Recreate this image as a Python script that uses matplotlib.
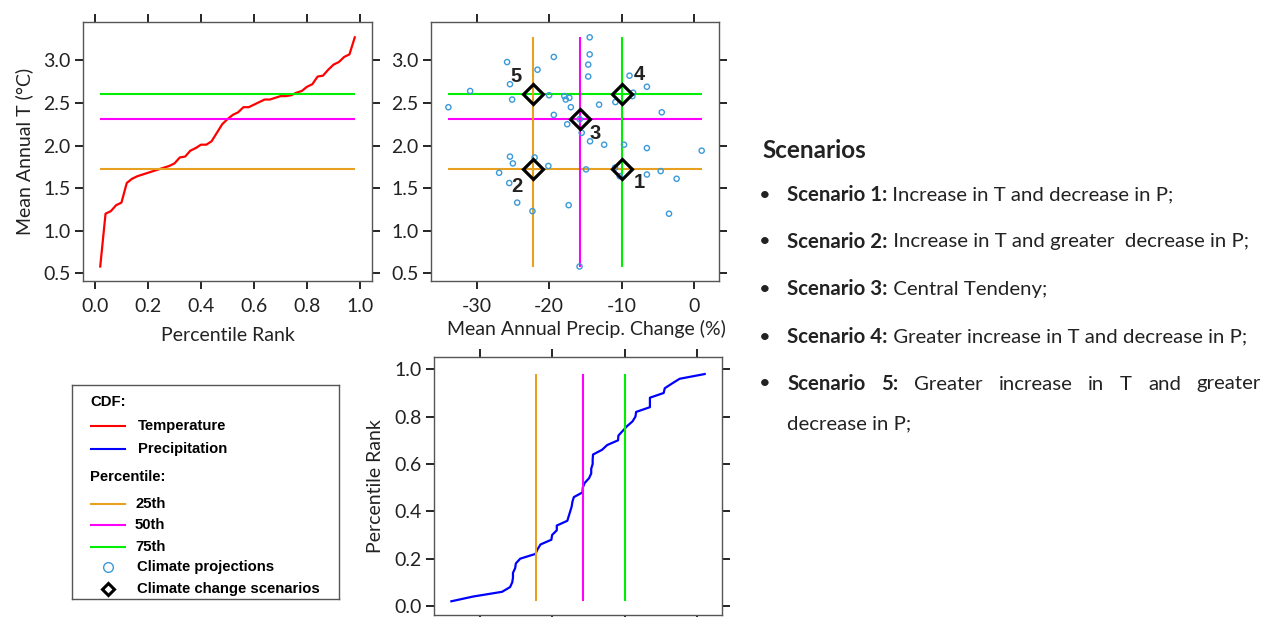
import numpy as np
import matplotlib.pyplot as plt

plt.rcParams['font.family'] = ['Lato', 'DejaVu Sans']
plt.rcParams['axes.unicode_minus'] = False

# climate projections
precip = [-25.8, -19.35, -21.6, -25.4, -30.9, -33.9, -25.1, -20.0, -17.9, -17.7,
          -17.2, -17.0, -19.35, -17.5, -14.4, -14.4, -14.6, -14.6, -8.9, -6.5,
          -8.4, -8.5, -13.1, -10.85, -4.45, -15.5, -14.35, -12.4, -9.65, -6.5,
          1.06, -25.4, -25.0, -26.9, -25.5, -24.4, -22.3, -17.3, -20.1, -22.0,
          -14.9, -10.9, -10.25, -6.5, -4.6, -2.4, -3.45, -15.8, -15.77]
temp = [2.98, 3.04, 2.89, 2.72, 2.64, 2.45, 2.54, 2.59, 2.58, 2.54,
        2.56, 2.45, 2.36, 2.25, 3.27, 3.07, 2.95, 2.81, 2.82, 2.69,
        2.62, 2.58, 2.48, 2.51, 2.39, 2.15, 2.05, 2.01, 2.01, 1.97,
        1.94, 1.87, 1.79, 1.68, 1.56, 1.33, 1.23, 1.30, 1.76, 1.86,
        1.72, 1.74, 1.64, 1.66, 1.70, 1.61, 1.20, 0.58, 2.31]

pct_names = ['25th', '50th', '75th']
p_pct = [-22.2, -15.8, -9.9]
t_pct = [1.73, 2.31, 2.61]

# scenario -> (precip percentile index, temp percentile index)
scen_ids = ['1', '2', '3', '4', '5']
scen_pi = [2, 0, 1, 2, 0]
scen_ti = [0, 0, 1, 2, 2]

scen_bold = ['Scenario 1:', 'Scenario 2:', 'Scenario 3:', 'Scenario 4:', 'Scenario 5:']
scen_text = ['Increase in T and decrease in P;',
             'Increase in T and greater  decrease in P;',
             'Central Tendeny;',
             'Greater increase in T and decrease in P;',
             'Greater increase in T and greater']
scen_tail = 'decrease in P;'

pct_colors = ['#E8A020', '#FF00FF', '#00EE00']
lab_off = [(12, -10), (-12, -13), (11, -10), (12, 14), (-12, 12)]
frame_c = '#555555'
txt_c = '#222222'
fs_ax = 14

n = len(temp)
rank = np.arange(1, n + 1) / (n + 1)
t_sorted = np.sort(temp)
p_sorted = np.sort(precip)

W, H = 1274, 617
fig = plt.figure(figsize=(W / 100, H / 100), dpi=100)


def pax(x0, y0, x1, y1):
    return fig.add_axes([x0 / W, 1 - y1 / H, (x1 - x0) / W, (y1 - y0) / H])


def style(ax):
    for s in ax.spines.values():
        s.set_color(frame_c)
        s.set_linewidth(1.0)
    ax.tick_params(direction='out', length=6, width=1.2, color='black',
                   top=True, right=True, labeltop=False, labelright=False,
                   labelsize=fs_ax, labelcolor=txt_c, pad=3)
    ax.tick_params(axis='x', pad=6)


xlim_p = (-36.3, 3.45)
ylim_t = (0.41, 3.45)

# temperature CDF
ax1 = pax(83, 22, 372, 281)
ax1.plot(rank, t_sorted, color='red', lw=1.6)
for v, c in zip(t_pct, pct_colors):
    ax1.hlines(v, rank[0], rank[-1], color=c, lw=1.5)
ax1.set_xlim(-0.045, 1.045)
ax1.set_ylim(*ylim_t)
ax1.set_xticks(np.arange(0, 1.01, 0.2))
ax1.set_yticks(np.arange(0.5, 3.01, 0.5))
ax1.xaxis.set_major_formatter(lambda v, p: f'{v:.1f}')
ax1.yaxis.set_major_formatter(lambda v, p: f'{v:.1f}')
ax1.set_xlabel('Percentile Rank', fontsize=fs_ax, color=txt_c, labelpad=9)
ax1.set_ylabel('Mean Annual T (°C)', fontsize=fs_ax, color=txt_c, labelpad=7)
style(ax1)

# scatter
ax2 = pax(431, 22, 719, 281)
for v, c in zip(t_pct, pct_colors):
    ax2.hlines(v, min(precip), max(precip), color=c, lw=1.5, zorder=1)
for v, c in zip(p_pct, pct_colors):
    ax2.vlines(v, min(temp), max(temp), color=c, lw=1.5, zorder=1)
ax2.scatter(precip, temp, s=14, facecolors='none', edgecolors='#3A9AD9',
            linewidths=1.0, zorder=2)
for sid, pi, ti, off in zip(scen_ids, scen_pi, scen_ti, lab_off):
    ax2.plot(p_pct[pi], t_pct[ti], marker='D', ms=10.5, mfc='none', mec='black',
             mew=2.3, zorder=3)
    ax2.annotate(sid, (p_pct[pi], t_pct[ti]), xytext=off, textcoords='offset points',
                 ha='center', va='center', fontsize=14.5, fontweight='bold',
                 family=['Liberation Sans'], color=txt_c)
ax2.set_xlim(*xlim_p)
ax2.set_ylim(*ylim_t)
ax2.set_xticks([-30, -20, -10, 0])
ax2.set_yticks(np.arange(0.5, 3.01, 0.5))
ax2.yaxis.set_major_formatter(lambda v, p: f'{v:.1f}')
style(ax2)
fig.text(586 / W, 1 - 329 / H, 'Mean Annual Precip. Change (%)', ha='center',
         va='center', fontsize=fs_ax, color=txt_c)

# precipitation CDF
ax3 = pax(434, 357, 722, 615)
ax3.plot(p_sorted, rank, color='blue', lw=1.6)
for v, c in zip(p_pct, pct_colors):
    ax3.vlines(v, rank[0], rank[-1], color=c, lw=1.5)
ax3.set_xlim(*xlim_p)
ax3.set_ylim(-0.038, 1.052)
ax3.set_xticks([-30, -20, -10, 0])
ax3.set_yticks(np.arange(0, 1.01, 0.2))
ax3.yaxis.set_major_formatter(lambda v, p: f'{v:.1f}')
style(ax3)
ax3.tick_params(labelbottom=False)
ax3.set_ylabel('Percentile Rank', fontsize=fs_ax, color=txt_c, labelpad=7)

# legend box, pixel coordinates inside the box
lg = pax(72, 385, 339, 599)
lg.set_xlim(0, 267)
lg.set_ylim(214, 0)
lg.set_xticks([])
lg.set_yticks([])
for s in lg.spines.values():
    s.set_color(frame_c)
    s.set_linewidth(1.0)
lkw = dict(fontsize=10.7, fontweight='bold', family=['Liberation Sans'],
           va='center', color='black')
lg.text(18, 17, 'CDF:', **lkw)
lg.plot([19, 53], [41, 41], color='red', lw=1.5)
lg.text(66, 41, 'Temperature', **lkw)
lg.plot([19, 53], [64, 64], color='blue', lw=1.5)
lg.text(66, 64, 'Precipitation', **lkw)
lg.text(18, 92, 'Percentile:', **lkw)
for name, c, yy in zip(pct_names, pct_colors, [119, 140, 162]):
    lg.plot([19, 53], [yy, yy], color=c, lw=1.5)
    lg.text(63, yy, name, **lkw)
lg.plot(36, 182, marker='o', ms=7, mfc='none', mec='#3A9AD9', mew=1.0)
lg.text(65, 182, 'Climate projections', **lkw)
lg.plot(36, 204, marker='D', ms=6, mfc='none', mec='black', mew=2.2)
lg.text(65, 204, 'Climate change scenarios', **lkw)

# scenario descriptions, pixel coordinates over the whole figure
tx = fig.add_axes([0, 0, 1, 1], facecolor='none')
tx.set_xlim(0, W)
tx.set_ylim(H, 0)
tx.axis('off')
tx.text(762, 151, 'Scenarios', fontsize=17.5, fontweight='bold', va='center',
        color=txt_c)
fig.canvas.draw()
r = fig.canvas.get_renderer()
fs = 14.7
x0, x_end = 787, 1261
rows = [195, 242, 289, 337, 384]
for i, (b, t, yy) in enumerate(zip(scen_bold, scen_text, rows)):
    tx.text(765, yy, '•', fontsize=fs, va='center', ha='center', color=txt_c)
    if i < 4:
        bt = tx.text(x0, yy, b, fontsize=fs, fontweight='bold', va='center', color=txt_c)
        bb = bt.get_window_extent(r)
        tx.text(bb.x1, yy, ' ' + t, fontsize=fs, va='center', color=txt_c)
    else:
        words = [(w, 'bold') for w in b.split()] + [(w, 'normal') for w in t.split()]
        arts = [tx.text(0, yy, w, fontsize=fs, fontweight=wt, va='center', color=txt_c)
                for w, wt in words]
        widths = [a.get_window_extent(r).width for a in arts]
        gap = (x_end - x0 - sum(widths)) / (len(arts) - 1)
        xx = x0
        for a, wd in zip(arts, widths):
            a.set_x(xx)
            xx += wd + gap
tx.text(x0, 424, scen_tail, fontsize=fs, va='center', color=txt_c)

fig.savefig('out.png', dpi=100)
